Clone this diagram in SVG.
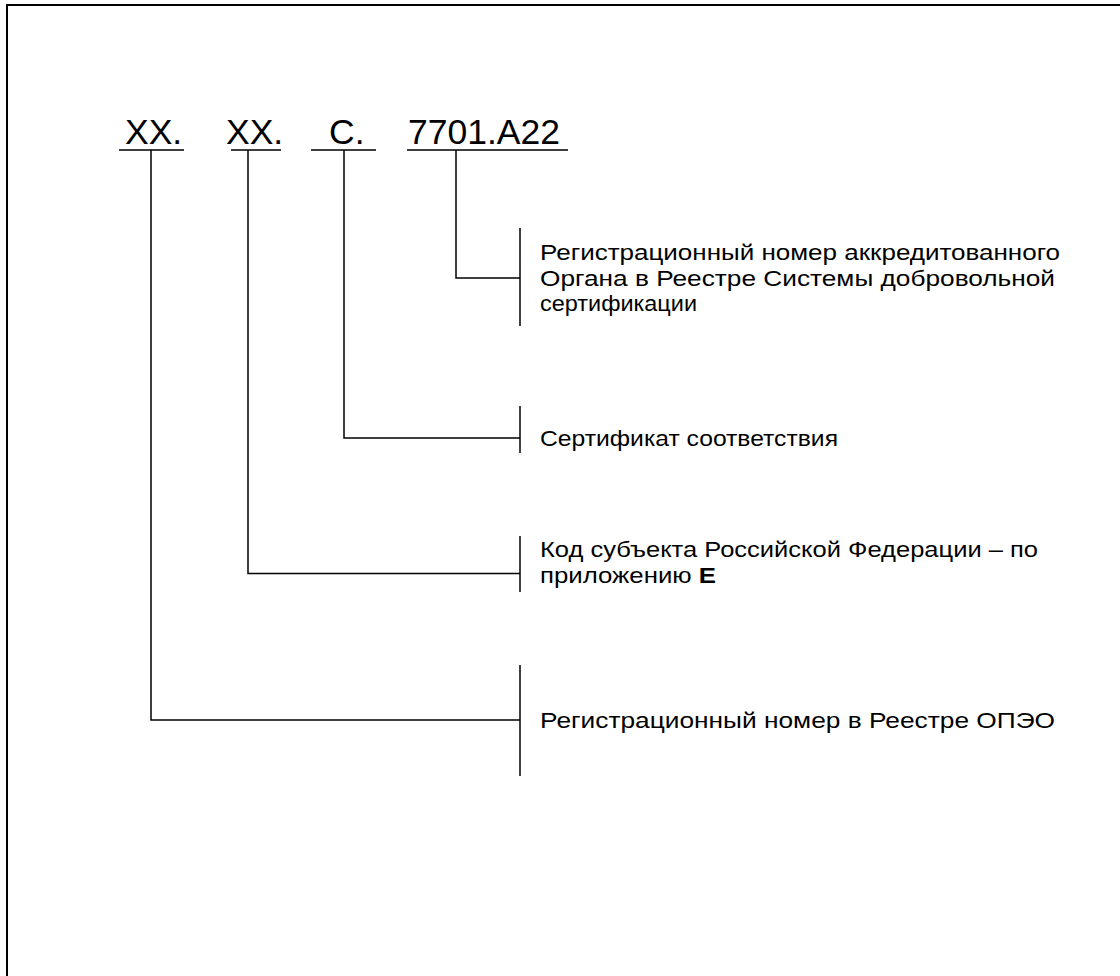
<svg xmlns="http://www.w3.org/2000/svg" width="1120" height="976" viewBox="0 0 1120 976">
<style>
.t{font-family:"Liberation Sans",Arial,sans-serif;fill:#000}
.big{font-size:35.5px}
.lbl{font-size:22px}
.ln{stroke:#000;stroke-width:1.5;fill:none}
</style>
<rect x="0" y="0" width="1120" height="976" fill="#fff"/>
<path d="M7,1000 V5 H1130" fill="none" stroke="#000" stroke-width="2"/>
<g id="code">
<text class="t big" x="125" y="144">XX.</text>
<text class="t big" x="226" y="144">XX.</text>
<text class="t big" x="329" y="144">C.</text>
<text class="t big" x="408" y="144">7701.A22</text>
<path class="ln" d="M119,150 H184 M231,150 H281 M311,150 H376 M407,150 H568"/>
</g>
<g id="connectors">
<path class="ln" d="M456,150 V278 H520"/>
<path class="ln" d="M344,150 V438 H520"/>
<path class="ln" d="M248,150 V573.5 H520"/>
<path class="ln" d="M151,150 V720 H520"/>
</g>
<g id="n1">
<path class="ln" d="M520,228 V326"/>
<text class="t lbl" x="540" y="260" textLength="520" lengthAdjust="spacingAndGlyphs">Регистрационный номер аккредитованного</text>
<text class="t lbl" x="540" y="285.5" textLength="515" lengthAdjust="spacingAndGlyphs">Органа в Реестре Системы добровольной</text>
<text class="t lbl" x="540" y="311" textLength="157" lengthAdjust="spacingAndGlyphs">сертификации</text>
</g>
<g id="n2">
<path class="ln" d="M520,406 V453"/>
<text class="t lbl" x="540" y="446" textLength="298" lengthAdjust="spacingAndGlyphs">Сертификат соответствия</text>
</g>
<g id="n3">
<path class="ln" d="M520,536 V592"/>
<text class="t lbl" x="540" y="557" textLength="498" lengthAdjust="spacingAndGlyphs">Код субъекта Российской Федерации – по</text>
<text class="t lbl" x="540" y="582.5" textLength="176" lengthAdjust="spacingAndGlyphs">приложению <tspan font-weight="bold">Е</tspan></text>
</g>
<g id="n4">
<path class="ln" d="M520,665 V776"/>
<text class="t lbl" x="540" y="728" textLength="515" lengthAdjust="spacingAndGlyphs">Регистрационный номер в Реестре ОПЭО</text>
</g>
</svg>
